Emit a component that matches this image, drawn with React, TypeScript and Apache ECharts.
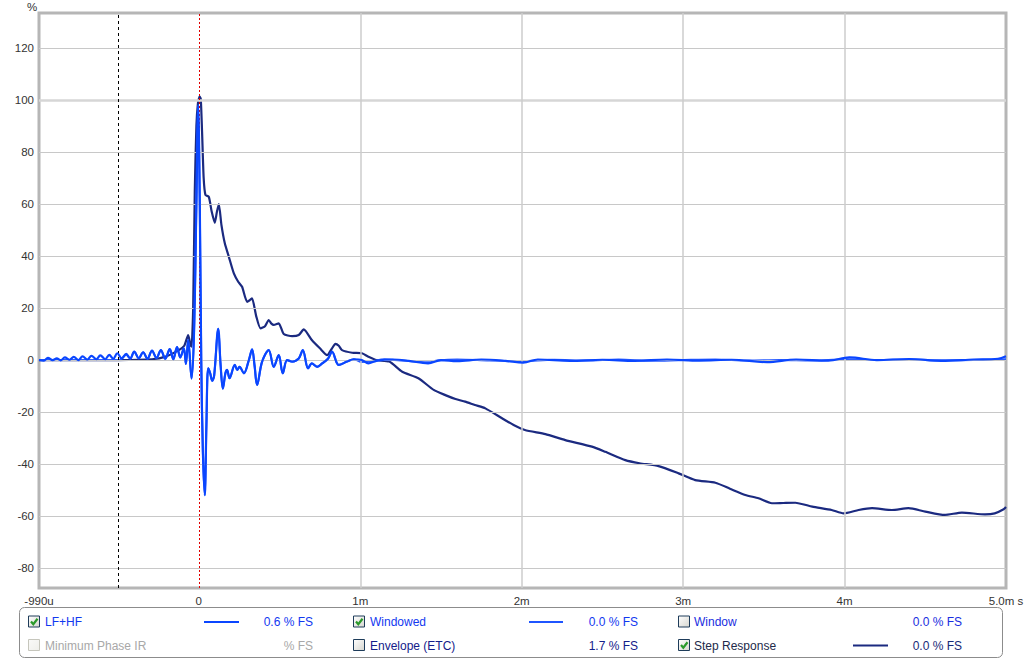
import React, { useEffect, useRef } from "react";
import * as echarts from "echarts";

// ---- axis ticks ----
const X_TICKS = [-0.99, 0, 1, 2, 3, 4, 5];
const Y_TICKS = [-80, -60, -40, -20, 0, 20, 40, 60, 80, 100, 120];
const X_GRID = [1, 2, 3, 4];
const X_MIN = -0.99;
const X_MAX = 5.0;
const Y_MIN = -87.7;
const Y_MAX = 133.5;
const WINDOW_START = -0.5;
const IMPULSE_REF = 0;

// ---- LF+HF impulse (ms, %) ----
const lfhfT = [
  -0.99, -0.96, -0.935, -0.905, -0.88, -0.855, -0.83, -0.8, -0.775, -0.745, -0.72, -0.69, -0.665, -0.635,
  -0.61, -0.58, -0.555, -0.53, -0.505, -0.478, -0.45, -0.425, -0.4, -0.372, -0.345, -0.318, -0.29, -0.262,
  -0.235, -0.208, -0.18, -0.158, -0.135, -0.115,
  -0.093, -0.08, -0.066, -0.045, -0.03, -0.015, -0.004, 0.006, 0.015, 0.025, 0.037, 0.047, 0.058, 0.07, 0.083, 0.095,
  0.12, 0.135, 0.149, 0.165, 0.175, 0.19, 0.223, 0.238, 0.252, 0.279, 0.31, 0.33, 0.345, 0.361, 0.392, 0.433,
  0.464, 0.495, 0.52, 0.547, 0.578, 0.619, 0.644, 0.677, 0.7, 0.733, 0.764, 0.8, 0.825, 0.867, 0.918, 0.96,
  1.01, 1.05, 1.1, 1.2, 1.3, 1.42, 1.5, 1.6, 1.75, 1.9, 2.01, 2.1, 2.3, 2.5, 2.7, 2.9, 3.1, 3.3, 3.52, 3.7,
  3.9, 4.03, 4.2, 4.4, 4.6, 4.8, 4.95, 5.0,
];
const lfhfV = [
  0, -0.2, 0.8, 0, 0.6, -0.1, 1.0, 0.1, 1.2, 0, 1.4, 0.2, 1.6, 0.3,
  1.8, 0.3, 2.0, 0.5, 2.6, 0.6, 2.4, 0.6, 3.2, 0.7, 3.0, 0.5, 3.6, 0.8,
  3.8, 0.5, 4.2, 0.3, 5.0, 1.0,
  4.5, -1.5, 7.7, -7.1, 10, 60, 98, 60, 0, -35, -52, -25, -3.2, -5, -8, -6,
  12, -2, -11, -5, -3.8, -7, -1.9, -3.8, -2.6, -5.1, 0, 4.1, -2, -9.6, -0.6, 3.8,
  -2.6, 1.9, -5.1, 0, -0.6, 0.6, 3.8, -3.2, -1.3, -2.6, -1.3, 0.5, 3.2, -1.9, -0.6, 0.3,
  0, -1.3, -0.3, 0.2, -0.3, -1.3, 0, -0.4, 0.2, -0.3, -1.0, 0.2, -0.3, 0.1, -0.3, 0.2, -0.2, 0.1, -0.8, 0.2,
  -0.2, 1.0, 0, 0.4, -0.3, 0.2, 0.5, 1.5,
];

// ---- Windowed impulse ----
const winT = [
  -0.99, -0.5, -0.478, -0.45, -0.425, -0.4, -0.372, -0.345, -0.318, -0.29, -0.262,
  -0.235, -0.208, -0.18, -0.158, -0.135, -0.115,
  -0.093, -0.08, -0.066, -0.045, -0.03, -0.015, -0.004, 0.006, 0.015, 0.025, 0.037, 0.047, 0.058, 0.07, 0.083, 0.095,
  0.12, 0.135, 0.149, 0.165, 0.175, 0.19, 0.223, 0.238, 0.252, 0.279, 0.31, 0.33, 0.345, 0.361, 0.392, 0.433,
  0.464, 0.495, 0.52, 0.547, 0.578, 0.619, 0.644, 0.677, 0.7, 0.733, 0.764, 0.8, 0.825, 0.867, 0.918, 0.96,
  1.01, 1.07, 1.15, 1.25, 1.35, 1.42, 1.48, 1.6, 1.8, 2.0, 2.2, 2.4, 2.6, 2.8, 3.0, 3.2, 3.4, 3.6, 3.8, 4.0,
  4.2, 4.4, 4.6, 4.8, 5.0,
];
const winV = [
  0, 0, 0.5, 2.0, 0.6, 3.2, 0.7, 3.0, 0.5, 3.6, 0.8,
  3.8, 0.5, 4.2, 0.3, 5.0, 1.0,
  4.5, -1.5, 7.7, -7.1, 10, 60, 98, 60, 0, -35, -52, -25, -3.2, -5, -8, -6,
  12, -2, -11, -5, -3.8, -7, -1.9, -3.8, -2.6, -5.1, 0, 4.1, -2, -9.6, -0.6, 3.8,
  -2.6, 1.9, -5.1, 0, -0.6, 0.6, 3.8, -3.2, -1.3, -2.6, -1.3, 0.5, 3.2, -1.9, -0.6, 0.3,
  -0.8, -0.5, 0.3, -0.2, -0.6, -0.9, -0.2, 0.2, -0.2, -0.5, 0.1, -0.2, 0.2, -0.3, 0, 0.2, -0.2, 0, -0.2, 0.3,
  0, 0.2, -0.1, 0, 0.3,
];

// ---- Step response ----
const stepT = [
  -0.99, -0.5, -0.29, -0.206, -0.124, -0.09, -0.066, -0.052, -0.045, -0.035, -0.025, -0.015, -0.005, 0.005,
  0.012, 0.02, 0.03, 0.041, 0.062, 0.08, 0.099, 0.112, 0.124, 0.14, 0.161, 0.186, 0.217, 0.245, 0.268, 0.299,
  0.315, 0.33, 0.355, 0.382, 0.41, 0.433, 0.45, 0.464, 0.495, 0.526, 0.578, 0.619, 0.65, 0.7, 0.75, 0.795,
  0.825, 0.846, 0.867, 0.887, 0.95, 1.01, 1.05, 1.1, 1.18, 1.26, 1.36, 1.455, 1.527, 1.59, 1.65, 1.71, 1.775,
  1.878, 1.95, 2.02, 2.147, 2.27, 2.435, 2.518, 2.642, 2.73, 2.848, 2.972, 3.075, 3.2, 3.29, 3.385, 3.467,
  3.55, 3.62, 3.695, 3.8, 3.92, 3.994, 4.087, 4.17, 4.293, 4.396, 4.5, 4.62, 4.727, 4.87, 4.93, 4.985, 5.0,
];
const stepV = [
  0, 0, 0.3, 1.3, 3.8, 5.5, 9.6, 6, 5.1, 20, 65, 90, 99, 101.3,
  100.5, 88, 70, 63.5, 62.8, 57, 52.8, 57, 60, 52, 44.9, 39.7, 33.3, 30, 28.2, 22.4,
  23, 23.7, 17, 12.2, 13, 15.4, 14, 13.5, 14.1, 10, 9.2, 9.6, 11.8, 7.7, 4.5, 1.9,
  4.5, 6.2, 5.5, 3.8, 2.8, 2.6, 1.3, 0, -0.6, -4.5, -7, -11.5, -13.5, -15, -16, -17.3, -18.6,
  -22.4, -25, -26.9, -28.5, -30.8, -33.3, -35.3, -38.5, -39.7, -40.8, -43.6, -46.2, -47.2, -49.5, -51.9, -53.2,
  -55.1, -55, -54.9, -56.4, -57.7, -59, -57.7, -57, -57.7, -57, -58.3, -59.6, -58.7, -59.4, -59, -57.4, -56.5,
];

// ---- legend content ----
const legendRows = [
  [
    { name: "LF+HF", checked: true, enabled: true, color: "#1238f0", line: "#0a46ff", value: "0.6 % FS", valueColor: "#1238f0" },
    { name: "Windowed", checked: true, enabled: true, color: "#1238f0", line: "#1f55ff", value: "0.0 % FS", valueColor: "#1238f0" },
    { name: "Window", checked: false, enabled: true, color: "#1a2ee0", line: null, value: "0.0 % FS", valueColor: "#1a2ee0" },
  ],
  [
    { name: "Minimum Phase IR", checked: false, enabled: false, color: "#a8a8a8", line: null, value: "% FS", valueColor: "#a8a8a8" },
    { name: "Envelope (ETC)", checked: false, enabled: true, color: "#14208a", line: null, value: "1.7 % FS", valueColor: "#14208a" },
    { name: "Step Response", checked: true, enabled: true, color: "#222a4a", line: "#1b2a80", value: "0.0 % FS", valueColor: "#182a78" },
  ],
];

const FONT = "'Liberation Sans', Arial, sans-serif";
const zip = (t: number[], v: number[]) => t.map((x, i) => [x, v[i]]);

function buildLegend() {
  const els: any[] = [];
  els.push({
    type: "rect",
    shape: { x: 19.5, y: 607.5, width: 983, height: 50, r: 5 },
    style: { fill: "#fff", stroke: "#8c8c8c", lineWidth: 1 },
    z: 50,
  });
  const rowY = [622, 645.5];
  const boxX = [28.5, 353.5, 678.5];
  const labelX = [45, 370, 694];
  const lineX = [[204, 239], [529, 563], [853, 888]];
  const valueX = [313, 638, 962];
  legendRows.forEach((row, r) => {
    row.forEach((it, c) => {
      const y = rowY[r];
      const bx = boxX[c];
      const by = y - 6;
      els.push({
        type: "rect",
        shape: { x: bx, y: by, width: 11, height: 11 },
        style: {
          fill: new echarts.graphic.LinearGradient(0, 0, 1, 1, [
            { offset: 0, color: it.enabled ? "#ffffff" : "#fafaf8" },
            { offset: 1, color: it.enabled ? "#d6d6cf" : "#efefea" },
          ]),
          stroke: it.enabled ? "#1e3c5a" : "#c6c6bc",
          lineWidth: 1,
        },
        z: 51,
      });
      if (it.checked) {
        els.push({
          type: "polyline",
          shape: { points: [[bx + 2.5, by + 5.5], [bx + 4.8, by + 8.2], [bx + 9, by + 2.8]] },
          style: { stroke: "#2b9a2b", lineWidth: 2.2, fill: null },
          z: 52,
        });
      }
      els.push({
        type: "text",
        x: labelX[c],
        y,
        style: { text: it.name, fill: it.color, font: `12px ${FONT}`, textVerticalAlign: "middle", verticalAlign: "middle" },
        z: 52,
      });
      if (it.line) {
        els.push({
          type: "line",
          shape: { x1: lineX[c][0], y1: y, x2: lineX[c][1], y2: y },
          style: { stroke: it.line, lineWidth: 2 },
          z: 52,
        });
      }
      els.push({
        type: "text",
        x: valueX[c],
        y,
        style: {
          text: it.value, fill: it.valueColor, font: `12px ${FONT}`,
          textAlign: "right", align: "right", textVerticalAlign: "middle", verticalAlign: "middle",
        },
        z: 52,
      });
    });
  });
  els.push({
    type: "text",
    x: 27,
    y: 1,
    style: { text: "%", fill: "#333", font: `11.5px ${FONT}` },
    z: 52,
  });
  return els;
}

function xLabel(v: number) {
  if (Math.abs(v - X_MIN) < 1e-6) return "-990u";
  if (v === 0) return "0";
  if (v === 5) return "5.0m s";
  return `${v}m`;
}

export default function App() {
  const ref = useRef<HTMLDivElement>(null);
  useEffect(() => {
    if (!ref.current) return;
    const chart = echarts.init(ref.current, null, { renderer: "svg" });
    const gridLines: any[] = [
      ...Y_TICKS.map((v) => ({
        yAxis: v,
        lineStyle: v === 100 ? { color: "#d6d6d6", width: 2.5, type: "solid" } : { color: "#c8c8c8", width: 1, type: "solid" },
      })),
      ...X_GRID.map((v) => ({ xAxis: v, lineStyle: { color: "#cdcdcd", width: 1.5, type: "solid" } })),
    ];
    chart.setOption({
      animation: false,
      backgroundColor: "#fff",
      grid: {
        left: 39, right: 18, top: 13, bottom: 72, show: true,
        outerBoundsMode: "none", containLabel: false,
        borderColor: "#b6b6b6", borderWidth: 3, backgroundColor: "#fff",
      },
      xAxis: {
        type: "value", min: X_MIN, max: X_MAX,
        axisLine: { show: false }, axisTick: { show: false }, splitLine: { show: false },
        axisLabel: {
          customValues: X_TICKS, formatter: xLabel, color: "#333", fontSize: 11.5,
          fontFamily: FONT, margin: 7, showMinLabel: true, showMaxLabel: true,
        },
      },
      yAxis: {
        type: "value", min: Y_MIN, max: Y_MAX,
        axisLine: { show: false }, axisTick: { show: false }, splitLine: { show: false },
        axisLabel: { customValues: Y_TICKS, color: "#333", fontSize: 11.5, fontFamily: FONT, margin: 5 },
      },
      series: [
        {
          type: "line", data: [], z: 1, silent: true,
          markLine: { silent: true, symbol: ["none", "none"], label: { show: false }, data: gridLines },
        },
        {
          name: "Step Response", type: "line", data: zip(stepT, stepV), showSymbol: false,
          smooth: 0.2, lineStyle: { color: "#1b2a80", width: 2.2 }, z: 3,
        },
        {
          name: "Windowed", type: "line", data: zip(winT, winV), showSymbol: false,
          smooth: 0.35, lineStyle: { color: "#2a5cff", width: 2 }, z: 4,
        },
        {
          name: "LF+HF", type: "line", data: zip(lfhfT, lfhfV), showSymbol: false,
          smooth: 0.35, lineStyle: { color: "#0a46ff", width: 2.2 }, z: 5,
        },
        {
          type: "line", data: [], z: 8, silent: true,
          markLine: {
            silent: true, symbol: ["none", "none"], label: { show: false },
            data: [
              { xAxis: WINDOW_START, lineStyle: { color: "#000", width: 1, type: [3, 3] } },
              { xAxis: IMPULSE_REF, lineStyle: { color: "#e00000", width: 1, type: [2, 2] } },
            ],
          },
        },
      ],
      graphic: buildLegend(),
    });
    return () => chart.dispose();
  }, []);
  return <div ref={ref} style={{ position: "absolute", left: 0, top: 0, width: 1024, height: 660, background: "#fff" }} />;
}
